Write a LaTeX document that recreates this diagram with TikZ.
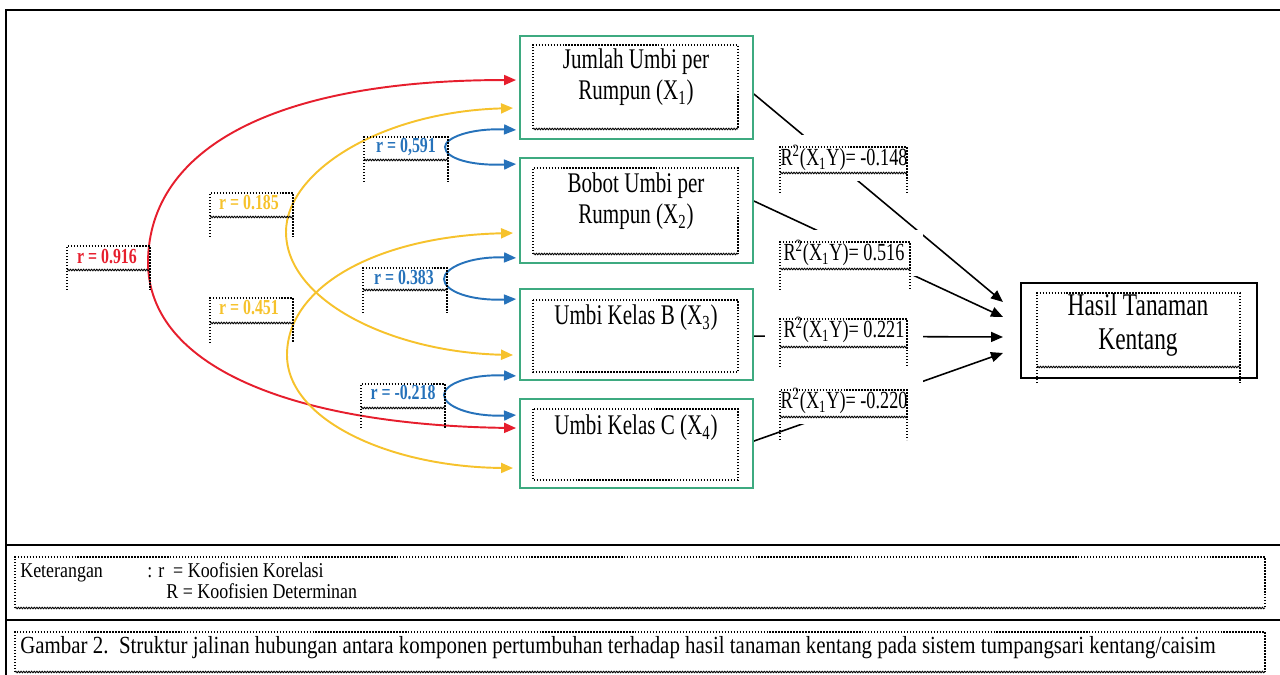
\documentclass[tikz,border=0pt]{standalone}
\usepackage{fontspec}
\setmainfont{Liberation Serif}[FakeStretch=0.74]
\newfontfamily\notefont{Liberation Serif}[FakeStretch=0.85]
\usetikzlibrary{arrows.meta,calc,decorations.pathmorphing}
\pgfdeclarelayer{bg}
\pgfsetlayers{bg,main}

\definecolor{boxgreen}{RGB}{62,170,128}
\definecolor{corred}{RGB}{230,30,45}
\definecolor{coryellow}{RGB}{246,194,44}
\definecolor{corblue}{RGB}{38,114,186}

\tikzset{
  grbox/.style={draw=boxgreen, line width=1.1pt, minimum width=4.66cm, inner sep=0pt},
  dotline/.style={line width=0.8pt, dash pattern=on 0.8pt off 0.9pt},
  wavyline/.style={decorate, decoration={snake, amplitude=0.45pt, segment length=1.5pt}, line width=0.5pt},
  tip/.style={-{Triangle[length=2.4mm,width=2mm]}},
  corr/.style={line width=1.1pt, {Triangle[length=2.4mm,width=2mm]}-{Triangle[length=2.4mm,width=2mm]}},
  varlab/.style={align=center, font=\fontsize{16.2}{17.6}\selectfont, inner sep=0pt},
  rlab/.style={font=\fontsize{12.2}{13}\selectfont\bfseries, inner sep=0pt},
  detlab/.style={font=\fontsize{14}{15}\selectfont, fill=white, minimum width=3.16cm, minimum height=0.92cm, inner sep=0pt},
  notelab/.style={anchor=base west, font=\notefont\fontsize{12}{13}\selectfont, inner sep=0pt},
}

%% dotted text frame: left, right, top, wavy line, bottom of sides
\newcommand{\txtframe}[5]{%
  \draw[dotline] (#1,#5) -- (#1,#3) -- (#2,#3) -- (#2,#5);
  \draw[wavyline] (#1,#4) -- (#2,#4);}

\begin{document}
\begin{tikzpicture}[x=0.02cm, y=-0.02cm]

  \useasboundingbox (0,0) rectangle (1280,675);
  \clip (0,0) rectangle (1280,675);

  %%Frame
  \draw[line width=1.2pt] (6,700) -- (6,10) -- (1290,10);
  \draw[line width=1.2pt] (6,545) -- (1290,545);
  \draw[line width=1.2pt] (6,620) -- (1290,620);

  %%Variables
  \node (x1) [grbox, minimum height=2.06cm] at (636.5,87.5) {};
  \node (x2) [grbox, minimum height=2.1cm] at (636.5,210.5) {};
  \node (x3) [grbox, minimum height=1.82cm] at (636.5,334.5) {};
  \node (x4) [grbox, minimum height=1.78cm] at (636.5,443.5) {};

  \txtframe{533}{738}{45}{129}{129}
  \txtframe{533}{738}{168}{254}{254}
  \draw[dotline] (533,300) rectangle (738,372);
  \draw[dotline] (533,409) rectangle (738,480);

  \node (x1t) [varlab] at (636,77.5) {Jumlah Umbi per\\Rumpun (X\textsubscript{1})};
  \node (x2t) [varlab] at (636,201.5) {Bobot Umbi per\\Rumpun (X\textsubscript{2})};
  \node (x3t) [varlab] at (636,318) {Umbi Kelas B (X\textsubscript{3})};
  \node (x4t) [varlab] at (636,428) {Umbi Kelas C (X\textsubscript{4})};

  %%Result
  \node (hasil) [draw, line width=1.1pt, minimum width=4.72cm, minimum height=1.9cm] at (1139,330.5) {};
  \txtframe{1037}{1240}{293}{367}{383}
  \node (hasilt) [varlab, font=\fontsize{18}{19.3}\selectfont] at (1138,325) {Hasil Tanaman\\Kentang};

  %%Determination
  \node (d1) [detlab] at (844,158) {R\textsuperscript{2}(X\textsubscript{1}Y)= -0.148};
  \node (d2) [detlab] at (844,253) {R\textsuperscript{2}(X\textsubscript{1}Y)= 0.516};
  \node (d3) [detlab] at (844,330) {R\textsuperscript{2}(X\textsubscript{1}Y)= 0.221};
  \node (d4) [detlab] at (844,401) {R\textsuperscript{2}(X\textsubscript{1}Y)= -0.220};
  \txtframe{780}{907}{147}{173}{193}
  \txtframe{780}{910}{242}{269}{290}
  \txtframe{780}{907}{319}{347}{367}
  \txtframe{780}{907}{390}{417}{440}

  \coordinate (h1) at (1003,302);
  \coordinate (h2) at (1003,317);
  \coordinate (h3) at (1003,337);
  \coordinate (h4) at (1003,353);
  \begin{pgfonlayer}{bg}
    \draw[tip, line width=0.9pt] ($(x1.north east)+(0,59)$) -- (h1);
    \draw[tip, line width=0.9pt] ($(x2.north east)+(0,44)$) -- (h2);
    \draw[tip, line width=0.9pt] ($(x3.north east)+(0,48)$) -- (h3);
    \draw[tip, line width=0.9pt] ($(x4.north east)+(0,43)$) -- (h4);
  \end{pgfonlayer}

  %%Correlation
  \draw[corr, corred] ($(x1.north west)+(-3,45)$) .. controls (275,80) and (149,148) .. (148,262)
    .. controls (148,370) and (300,425) .. ($(x4.north west)+(-3,30)$);
  \draw[corr, coryellow] ($(x1.north west)+(-6,73)$) .. controls (380,112) and (286,172) .. (286,232)
    .. controls (286,300) and (390,352) .. ($(x3.north west)+(-6,67)$);
  \draw[corr, coryellow] ($(x2.north west)+(-6,76)$) .. controls (380,236) and (287,285) .. (287,355)
    .. controls (287,420) and (390,467) .. ($(x4.north west)+(-6,70)$);
  \draw[corr, corblue] ($(x1.south west)+(-3,-10)$) .. controls (470,128) and (445,138) .. (445,147)
    .. controls (445,158) and (470,166) .. ($(x2.north west)+(-3,7)$);
  \draw[corr, corblue] ($(x2.south west)+(-3,-6)$) .. controls (470,256) and (444,268) .. (444,279)
    .. controls (444,291) and (470,301) .. ($(x3.north west)+(-3,11)$);
  \draw[corr, corblue] ($(x3.south west)+(-3,-5)$) .. controls (470,374) and (444,384) .. (444,395)
    .. controls (444,406) and (470,417) .. ($(x4.north west)+(-3,17)$);

  \node (r1) [rlab, text=corred] at (107,257) {r = 0.916};
  \node (r2) [rlab, text=coryellow] at (249,203) {r = 0.185};
  \node (r3) [rlab, text=coryellow] at (249,308) {r = 0.451};
  \node (r4) [rlab, text=corblue] at (406,147) {r = 0,591};
  \node (r5) [rlab, text=corblue] at (404,278) {r = 0.383};
  \node (r6) [rlab, text=corblue] at (403,393) {r = -0.218};
  \txtframe{67}{150}{246}{270}{290}
  \txtframe{210}{293}{193}{217}{237}
  \txtframe{210}{293}{298}{323}{343}
  \txtframe{364}{448}{137}{160}{182}
  \txtframe{363}{447}{268}{290}{313}
  \txtframe{361}{445}{384}{408}{428}

  %%Legend
  \txtframe{15}{1265}{557}{608}{608}
  \node (ket) [notelab] at (20,577) {Keterangan};
  \node (ketr) [notelab] at (147,577) {: r \ = Koofisien Korelasi};
  \node (ketR) [notelab] at (166,598) {R = Koofisien Determinan};

  %%Caption
  \txtframe{15}{1265}{632}{672}{672}
  \node (cap) [notelab, font=\notefont\fontsize{14}{15}\selectfont] at (20,653) {Gambar 2.\ \ Struktur jalinan hubungan antara komponen pertumbuhan terhadap hasil tanaman kentang pada sistem tumpangsari kentang/caisim};

\end{tikzpicture}
\end{document}
